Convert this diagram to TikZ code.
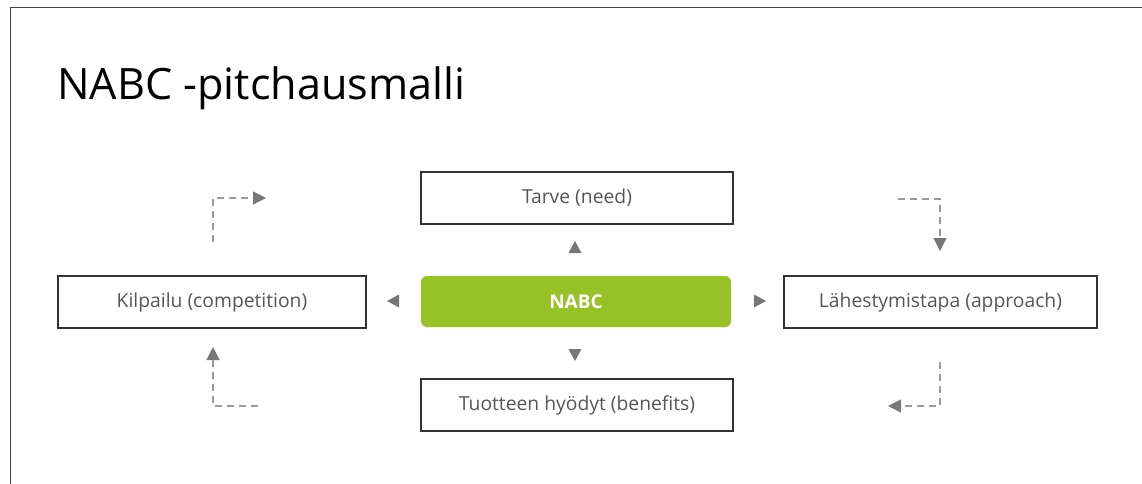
\documentclass[tikz,border=0pt]{standalone}
\usepackage{fontspec}
\setmainfont{Open Sans}
\usetikzlibrary{arrows.meta}
\definecolor{nabcgreen}{HTML}{97C225}
\definecolor{tipgray}{HTML}{777777}
\definecolor{dashgray}{HTML}{999999}
\definecolor{txtgray}{HTML}{555555}
\definecolor{framegray}{HTML}{444444}
\tikzset{
  box/.style={draw=black!80, line width=1.2pt, minimum width=312pt, minimum height=52pt, inner sep=0pt, font=\fontsize{19.3}{22}\selectfont, text=txtgray},
  centerbox/.style={fill=nabcgreen, rounded corners=6pt, minimum width=310pt, minimum height=51pt, inner sep=0pt, font=\fontsize{19}{22}\selectfont\bfseries, text=white},
  tri/.style={fill=tipgray},
  dashlink/.style={draw=dashgray, line width=1.2pt, dash pattern=on 7pt off 5pt, -{Triangle[length=13pt,width=13pt,fill=tipgray,color=tipgray]}}
}
\begin{document}
\begin{tikzpicture}[x=1pt,y=-1pt]
\useasboundingbox (0,0) rectangle (1142,484);
\draw[framegray, line width=1.5pt] (10.5,484) -- (10.5,7.5) -- (1142,7.5);
\node[anchor=base west, font=\fontsize{43.2}{50}\selectfont, inner sep=0pt] (title) at (57,100) {NABC -pitchausmalli};
\node[box] (need) at (577,198) {Tarve (need)};
\node[centerbox] (nabc) at (576,301.5) {NABC};
\node[box, minimum width=308pt] (comp) at (212,302) {Kilpailu (competition)};
\node[box, minimum width=313pt] (appr) at (940.5,302) {Lähestymistapa (approach)};
\node[box] (ben) at (577,405) {Tuotteen hyödyt (benefits)};
% central triangles
\fill[tri] (575,241) -- (581.5,253) -- (568.5,253) -- cycle;
\fill[tri] (575,361) -- (581.5,349) -- (568.5,349) -- cycle;
\fill[tri] (387,301) -- (399,294.5) -- (399,307.5) -- cycle;
\fill[tri] (766,301) -- (754,294.5) -- (754,307.5) -- cycle;
% dashed corner links
\coordinate (tl1) at (213,242); \coordinate (tl2) at (266,198);
\coordinate (tr1) at (898,199); \coordinate (tr2) at (940,251);
\coordinate (br1) at (940,362); \coordinate (br2) at (888,406);
\coordinate (bl1) at (258,406); \coordinate (bl2) at (213,347);
\draw[dashlink] (tl1) |- (tl2);
\draw[dashlink] (tr1) -| (tr2);
\draw[dashlink] (br1) |- (br2);
\draw[dashlink] (bl1) -| (bl2);
\end{tikzpicture}
\end{document}
